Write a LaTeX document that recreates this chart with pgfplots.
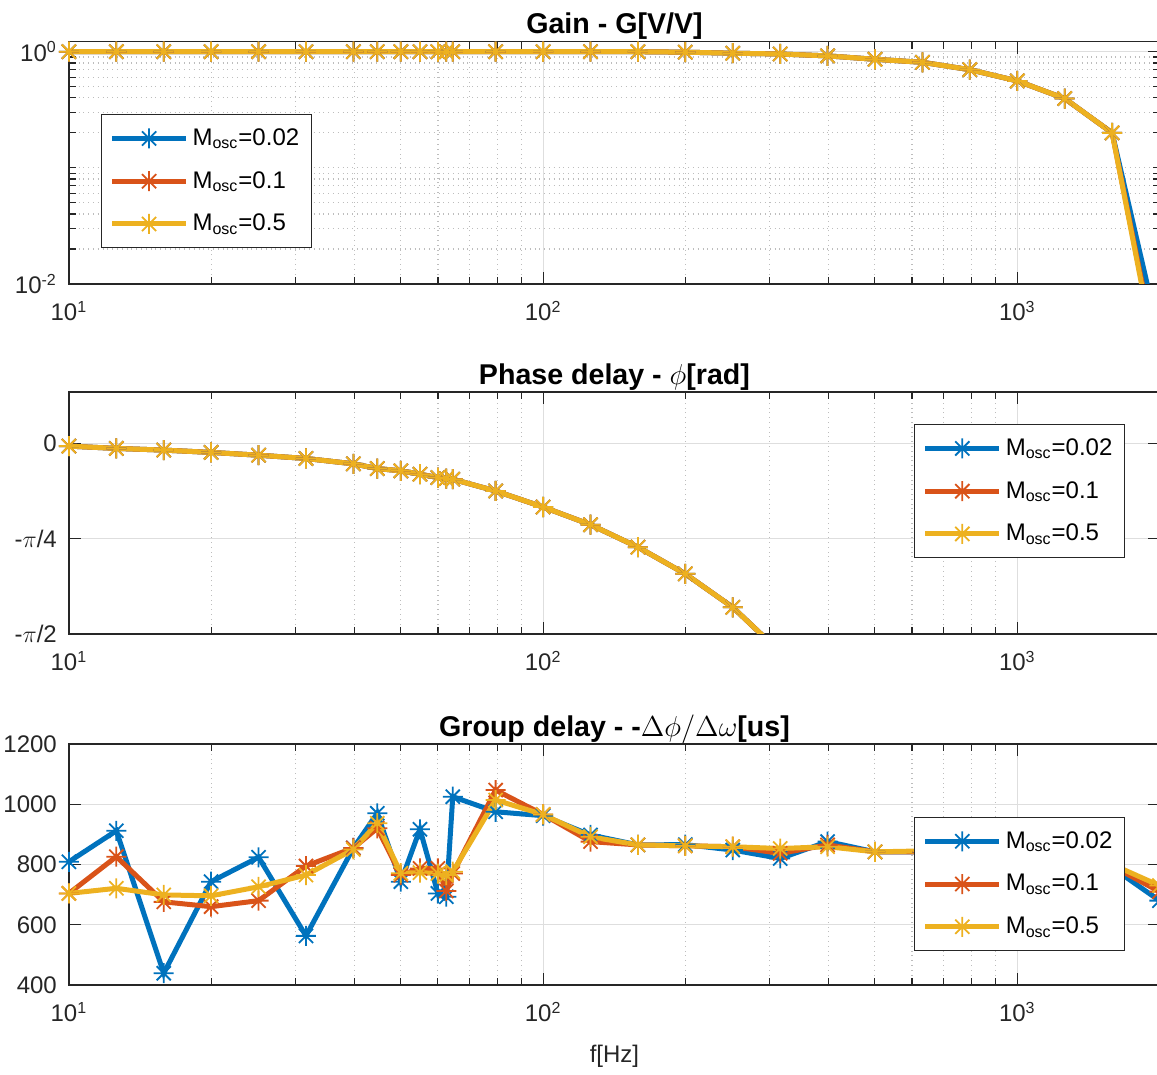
\documentclass[border=0pt]{standalone}
\usepackage{pgfplots}
\usepackage{pgfplotstable}
\pgfplotsset{compat=1.18}
\usepackage{fontspec}
\setmainfont{Liberation Sans}

\definecolor{mblue}{rgb}{0,0.447,0.741}
\definecolor{morange}{rgb}{0.850,0.325,0.098}
\definecolor{myellow}{rgb}{0.929,0.694,0.125}
\definecolor{axgray}{rgb}{0.15,0.15,0.15}
\definecolor{majgrid}{rgb}{0.87,0.87,0.87}
\definecolor{mingrid}{rgb}{0.74,0.74,0.74}

\pgfdeclareplotmark{mstar}{%
  \pgfpathmoveto{\pgfqpoint{-\pgfplotmarksize}{0pt}}\pgfpathlineto{\pgfqpoint{\pgfplotmarksize}{0pt}}%
  \pgfpathmoveto{\pgfqpoint{0pt}{-\pgfplotmarksize}}\pgfpathlineto{\pgfqpoint{0pt}{\pgfplotmarksize}}%
  \pgfpathmoveto{\pgfqpoint{-0.707\pgfplotmarksize}{-0.707\pgfplotmarksize}}\pgfpathlineto{\pgfqpoint{0.707\pgfplotmarksize}{0.707\pgfplotmarksize}}%
  \pgfpathmoveto{\pgfqpoint{-0.707\pgfplotmarksize}{0.707\pgfplotmarksize}}\pgfpathlineto{\pgfqpoint{0.707\pgfplotmarksize}{-0.707\pgfplotmarksize}}%
  \pgfusepathqstroke}

\pgfplotstableread{
f      b       o       y
10     1.0     1.0     1.0
12.59  1.0     1.0     1.0
15.85  1.0     1.0     1.0
19.95  1.0     1.0     1.0
25.12  1.0     1.0     1.0
31.62  1.0     1.0     1.0
39.81  1.0     1.0     1.0
44.7   1.0     1.0     1.0
50.12  1.0     1.0     1.0
55     1.0     1.0     1.0
60     1.0     1.0     1.0
62.5   1.0     1.0     1.0
64.5   1.0     1.0     1.0
79.43  1.0     1.0     1.0
100    1.0     1.0     1.0
125.9  1.0     1.0     1.0
158.5  1.0     1.0     1.0
199.5  0.99    0.99    0.99
251.2  0.97    0.97    0.97
316.2  0.955   0.955   0.955
398.1  0.92    0.92    0.92
501.2  0.86    0.86    0.86
631    0.81    0.81    0.81
794.3  0.70    0.70    0.70
1000   0.56    0.56    0.56
1259   0.395   0.395   0.395
1585   0.20    0.20    0.20
1995   0.0035  0.0018  0.0016
}\gaintab

\pgfplotstableread{
f      b       o       y
10     -0.022  -0.022  -0.022
12.59  -0.041  -0.041  -0.041
15.85  -0.055  -0.055  -0.055
19.95  -0.074  -0.074  -0.074
25.12  -0.097  -0.097  -0.097
31.62  -0.124  -0.124  -0.124
39.81  -0.168  -0.168  -0.168
44.7   -0.207  -0.207  -0.207
50.12  -0.226  -0.226  -0.226
55     -0.254  -0.254  -0.254
60     -0.281  -0.281  -0.281
62.5   -0.290  -0.290  -0.290
64.5   -0.295  -0.295  -0.295
79.43  -0.392  -0.392  -0.392
100    -0.524  -0.524  -0.524
125.9  -0.670  -0.670  -0.670
158.5  -0.855  -0.855  -0.855
199.5  -1.075  -1.075  -1.075
251.2  -1.351  -1.351  -1.351
316.2  -1.720  -1.720  -1.720
}\phasetab

\pgfplotstableread{
f      b      o      y
10     809    704    704
12.59  912    826    721
15.85  439    676    699
19.95  743    660    696
25.12  824    680    726
31.62  563    795    765
39.81  855    855    850
44.7   970    920    937
50.12  743    765    771
55     917    787    773
60     704    787    770
62.5   693    712    765
64.5   1025   770    776
79.43  975    1047   1014
100    962    966    966
125.9  898    876    892
158.5  865    865    865
199.5  866    862    862
251.2  848    859    859
316.2  820    837    853
398.1  876    865    859
501.2  842    842    842
631    842    842    845
794.3  843    843    844
1000   840    840    842
1259   835    838    840
1585   790    795    800
1995   680    710    730
}\gdtab

\pgfplotsset{
  legend image code/.code={\draw[#1, mark indices={2}] plot coordinates {(0pt,0pt) (18.5pt,0pt) (37pt,0pt)};},
  sb/.style={color=mblue, line width=2.5pt, mark=mstar, mark size=5pt, mark options={line width=0.9pt, solid}},
  so/.style={color=morange, line width=2.5pt, mark=mstar, mark size=5pt, mark options={line width=0.9pt, solid}},
  sy/.style={color=myellow, line width=2.5pt, mark=mstar, mark size=5pt, mark options={line width=0.9pt, solid}},
}

\begin{document}
\begin{tikzpicture}
\path[use as bounding box] (0pt,0pt) rectangle (578.5pt,537.5pt);

% Gain
\begin{axis}[
    scale only axis, width=545.55pt, height=121.15pt,
    at={(34.45pt,395.5pt)}, anchor=south west,
    xmode=log, xmin=10, xmax=2000,
    ymode=log, ymin=0.01, ymax=1.219,
    xtick={10,100,1000},
    xticklabels={10\textsuperscript{1},10\textsuperscript{2},10\textsuperscript{3}},
    minor xtick={20,30,40,50,60,70,80,90,200,300,400,500,600,700,800,900,2000},
    ytick={0.01,1}, yticklabels={10\textsuperscript{-2},10\textsuperscript{0}},
    minor ytick={0.02,0.03,0.04,0.05,0.06,0.07,0.08,0.09,0.1,0.2,0.3,0.4,0.5,0.6,0.7,0.8,0.9},
    grid=both,
    major grid style={color=majgrid, line width=0.6pt},
    minor grid style={color=mingrid, dotted, line width=0.6pt},
    axis line style={color=axgray, line width=0.8pt},
    tick style={color=axgray, line width=0.6pt},
    tick align=inside,
    major tick length=6pt, minor tick length=3.5pt,
    tick label style={font=\fontsize{12}{14}\selectfont, color=axgray},
    xticklabel style={yshift=-5pt},
    yticklabel style={xshift=-2.5pt},
    title style={font=\bfseries\fontsize{14.3}{16}\selectfont, anchor=base, at={(0.5,1)}, yshift=-2pt},
    title={Gain - G[V/V]},
    legend cell align=left,
    legend style={draw=axgray, line width=0.6pt, fill=white,
      font=\fontsize{12}{14}\selectfont, text=black,
      inner xsep=4pt, inner ysep=5pt, row sep=7.5pt, anchor=north west, at={(0.0294,0.7016)}},
  ]
\addplot[sb, mark indices={1,...,27}] table[x=f,y=b] {\gaintab};
\addplot[so, mark indices={1,...,27}] table[x=f,y=o] {\gaintab};
\addplot[sy, mark indices={1,...,27}] table[x=f,y=y] {\gaintab};
\addlegendentry{M\textsubscript{osc}=0.02}
\addlegendentry{M\textsubscript{osc}=0.1}
\addlegendentry{M\textsubscript{osc}=0.5}
\end{axis}

% Phase
\begin{axis}[
    scale only axis, width=545.55pt, height=120.85pt,
    at={(34.45pt,220.5pt)}, anchor=south west,
    xmode=log, xmin=10, xmax=2000,
    ymin=-1.5708, ymax=0.4216,
    xtick={10,100,1000},
    xticklabels={10\textsuperscript{1},10\textsuperscript{2},10\textsuperscript{3}},
    minor xtick={20,30,40,50,60,70,80,90,200,300,400,500,600,700,800,900,2000},
    ytick={-1.5708,-0.7854,0}, yticklabels={-$\pi$/2,-$\pi$/4,0},
    grid=both,
    major grid style={color=majgrid, line width=0.6pt},
    minor grid style={color=mingrid, dotted, line width=0.6pt},
    axis line style={color=axgray, line width=0.8pt},
    tick style={color=axgray, line width=0.6pt},
    tick align=inside,
    major tick length=6pt, minor tick length=3.5pt,
    tick label style={font=\fontsize{12}{14}\selectfont, color=axgray},
    xticklabel style={yshift=-5pt},
    yticklabel style={xshift=-2.5pt},
    title style={font=\bfseries\fontsize{14.3}{16}\selectfont, anchor=base, at={(0.5,1)}, yshift=-2pt},
    title={Phase delay - $\phi$[rad]},
    legend cell align=left,
    legend style={draw=axgray, line width=0.6pt, fill=white,
      font=\fontsize{12}{14}\selectfont, text=black,
      inner xsep=4pt, inner ysep=5pt, row sep=7.5pt, anchor=north west, at={(0.7747,0.869)}},
  ]
\addplot[sb, mark indices={1,...,19}] table[x=f,y=b] {\phasetab};
\addplot[so, mark indices={1,...,19}] table[x=f,y=o] {\phasetab};
\addplot[sy, mark indices={1,...,19}] table[x=f,y=y] {\phasetab};
\addlegendentry{M\textsubscript{osc}=0.02}
\addlegendentry{M\textsubscript{osc}=0.1}
\addlegendentry{M\textsubscript{osc}=0.5}
\end{axis}

% Group delay
\begin{axis}[
    scale only axis, width=545.55pt, height=120.5pt,
    at={(34.45pt,45pt)}, anchor=south west,
    xmode=log, xmin=10, xmax=2000,
    ymin=400, ymax=1200,
    xtick={10,100,1000},
    xticklabels={10\textsuperscript{1},10\textsuperscript{2},10\textsuperscript{3}},
    minor xtick={20,30,40,50,60,70,80,90,200,300,400,500,600,700,800,900,2000},
    ytick={400,600,800,1000,1200},
    yticklabels={400,600,800,1000,1200},
    grid=both,
    major grid style={color=majgrid, line width=0.6pt},
    minor grid style={color=mingrid, dotted, line width=0.6pt},
    axis line style={color=axgray, line width=0.8pt},
    tick style={color=axgray, line width=0.6pt},
    tick align=inside,
    major tick length=6pt, minor tick length=3.5pt,
    tick label style={font=\fontsize{12}{14}\selectfont, color=axgray},
    xticklabel style={yshift=-5pt},
    yticklabel style={xshift=-2.5pt},
    title style={font=\bfseries\fontsize{14.3}{16}\selectfont, anchor=base, at={(0.5,1)}, yshift=-2pt},
    title={Group delay - -$\Delta\phi/\Delta\omega$[us]},
    xlabel={f[Hz]},
    xlabel style={font=\fontsize{12}{14}\selectfont, color=axgray, at={(0.5,0)}, anchor=base, yshift=-39pt},
    legend cell align=left,
    legend style={draw=axgray, line width=0.6pt, fill=white,
      font=\fontsize{12}{14}\selectfont, text=black,
      inner xsep=4pt, inner ysep=5pt, row sep=7.5pt, anchor=north west, at={(0.7747,0.698)}},
  ]
\addplot[sb] table[x=f,y=b] {\gdtab};
\addplot[so] table[x=f,y=o] {\gdtab};
\addplot[sy] table[x=f,y=y] {\gdtab};
\addlegendentry{M\textsubscript{osc}=0.02}
\addlegendentry{M\textsubscript{osc}=0.1}
\addlegendentry{M\textsubscript{osc}=0.5}
\end{axis}
\end{tikzpicture}
\end{document}
